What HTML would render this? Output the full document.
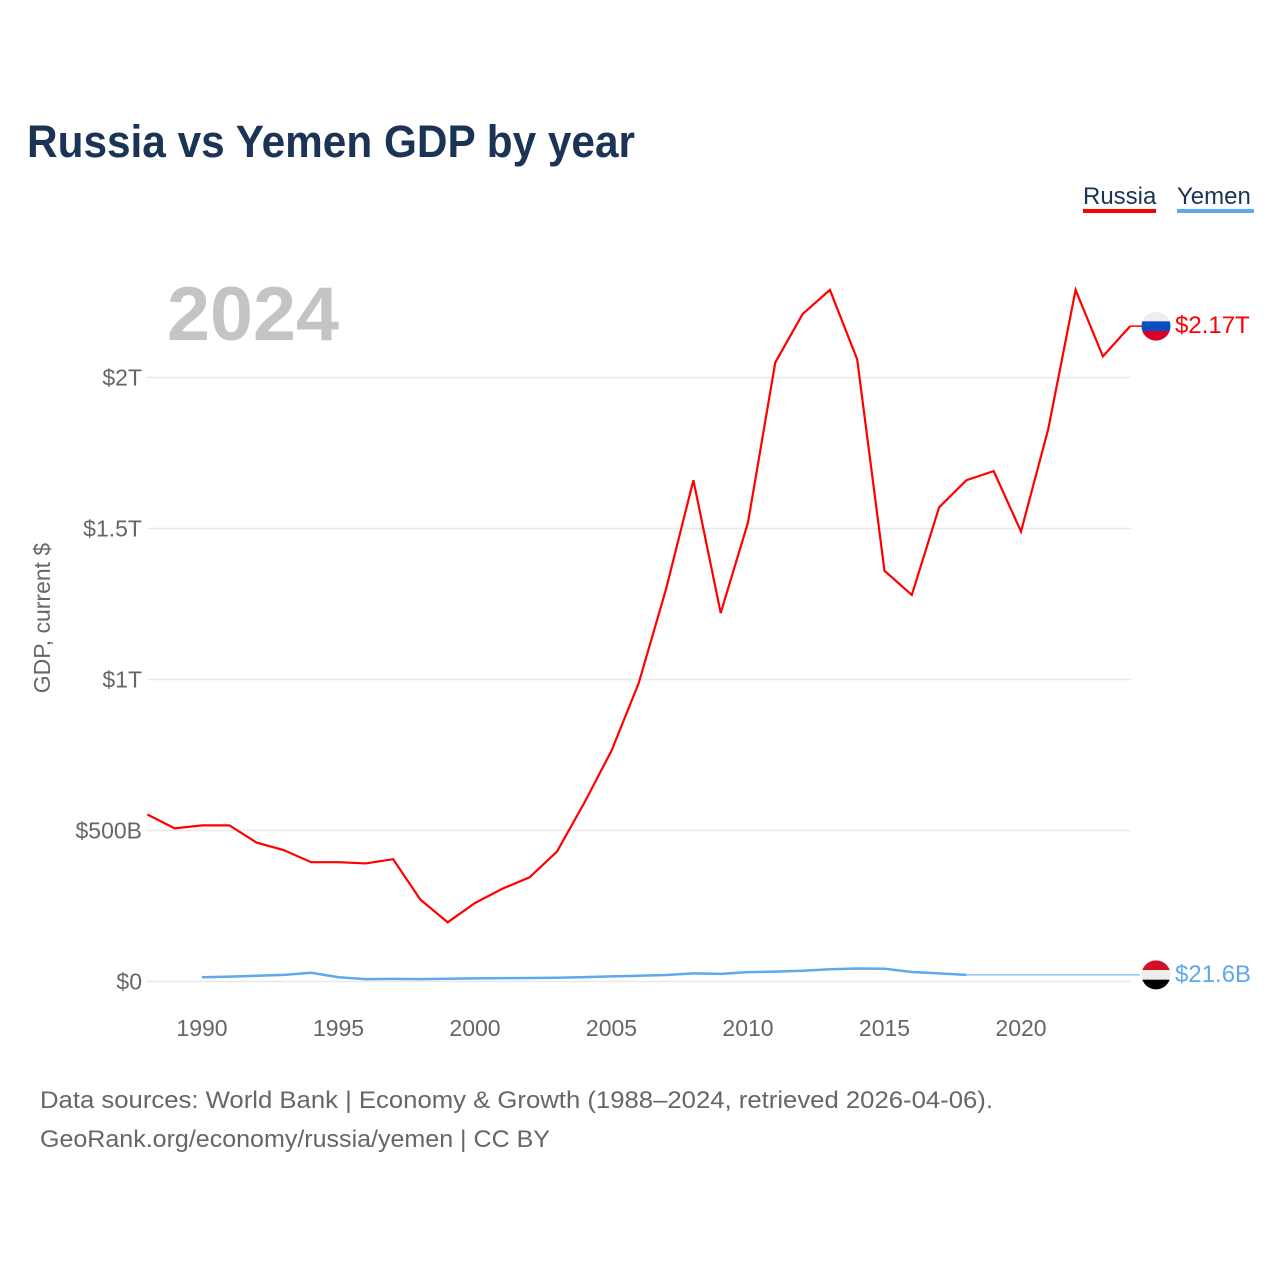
<!DOCTYPE html>
<html><head><meta charset="utf-8"><style>
body{margin:0;background:#fff;font-family:"Liberation Sans",sans-serif}
svg{display:block}
</style></head><body>
<svg id="chart" width="1280" height="1280" xmlns="http://www.w3.org/2000/svg">
<text x="27" y="157" font-size="45" font-weight="bold" fill="#1b3354" textLength="608" lengthAdjust="spacingAndGlyphs">Russia vs Yemen GDP by year</text>
<g><text x="1083" y="204" font-size="24" fill="#1b3354">Russia</text><rect x="1083" y="209" width="73" height="4" fill="#ff0000"/></g>
<g><text x="1177" y="204" font-size="24" fill="#1b3354">Yemen</text><rect x="1177" y="209" width="77" height="4" fill="#5ea8ee"/></g>
<text x="167" y="340" font-size="76" font-weight="bold" fill="#c4c4c4" textLength="172" lengthAdjust="spacingAndGlyphs">2024</text>
<text transform="translate(50,618) rotate(-90)" text-anchor="middle" font-size="23" fill="#666">GDP, current $</text>
<g id="grid"></g><g id="xt"></g><g id="lines"></g>
<text x="40" y="1108" font-size="24" fill="#666" textLength="953" lengthAdjust="spacingAndGlyphs">Data sources: World Bank | Economy &amp; Growth (1988–2024, retrieved 2026-04-06).</text>
<text x="40" y="1147" font-size="24" fill="#666" textLength="510" lengthAdjust="spacingAndGlyphs">GeoRank.org/economy/russia/yemen | CC BY</text>
</svg>
<script>
const russiaYears=[1988,1989,1990,1991,1992,1993,1994,1995,1996,1997,1998,1999,2000,2001,2002,2003,2004,2005,2006,2007,2008,2009,2010,2011,2012,2013,2014,2015,2016,2017,2018,2019,2020,2021,2022,2023,2024];
const russiaGDP=[553,507,517,517,460,435,395,395,391,405,271,196,260,307,345,430,591,764,989,1300,1660,1220,1520,2050,2210,2290,2060,1360,1280,1570,1660,1690,1490,1830,2290,2070,2170];
const yemenYears=[1990,1991,1992,1993,1994,1995,1996,1997,1998,1999,2000,2001,2002,2003,2004,2005,2006,2007,2008,2009,2010,2011,2012,2013,2014,2015,2016,2017,2018];
const yemenGDP=[14,16,19,22,29,14,8,8.5,8,9,10.5,11,11.5,12.5,14.5,17,19,21.6,26.9,25.1,31,32.7,35.4,40.4,43.2,42.4,31.3,26.8,22];
const yTicks=[0,500,1000,1500,2000];
const yTickLabels=["$0","$500B","$1T","$1.5T","$2T"];
const xTicks=[1990,1995,2000,2005,2010,2015,2020];
const NS="http://www.w3.org/2000/svg";
const X=y=>147.4+(y-1988)*27.3;
const Y=v=>981.5-v*0.302;
function mk(t,a,p){const e=document.createElementNS(NS,t);for(const k in a)e.setAttribute(k,a[k]);p.appendChild(e);return e;}
const g=document.getElementById('grid'),xt=document.getElementById('xt'),L=document.getElementById('lines');
yTicks.forEach((v,i)=>{
 const l=mk('line',{x1:147,x2:1131,y1:Y(v),y2:Y(v),stroke:'#e8e8e8','stroke-width':1.5},g);
 
 
 const t=mk('text',{x:142,y:Y(v)+8,'text-anchor':'end','font-size':23,fill:'#666'},g);
 t.textContent=yTickLabels[i];
 
 
});
xTicks.forEach(y=>{
 const t=mk('text',{x:X(y),y:1036,'text-anchor':'middle','font-size':23,fill:'#666'},xt);
 t.textContent=y;
 
 
});
const ry=yemenYears.map((y,i)=>X(y)+','+Y(yemenGDP[i])).join(' ');
const yl=mk('polyline',{points:ry,fill:'none',stroke:'#5ea8ee','stroke-width':2.5},L);


const last=yemenGDP[yemenGDP.length-1];
const ye=mk('line',{x1:X(2018),x2:1140,y1:Y(last),y2:Y(last),stroke:'#5ea8ee','stroke-width':1},L);


const rp=russiaYears.map((y,i)=>X(y)+','+Y(russiaGDP[i])).join(' ');
const rl=mk('polyline',{points:rp,fill:'none',stroke:'#ff0000','stroke-width':2.2},L);


const rv=russiaGDP[russiaGDP.length-1];
mk('line',{x1:X(2024),x2:1142,y1:Y(rv),y2:Y(rv),stroke:'#ff0000','stroke-width':1.5},L);
function flag(cy,cols,name){
 const grp=mk('g',{},L);
 
 
 const id='c'+name;
 const cp=mk('clipPath',{id:id},grp);mk('circle',{cx:1156,cy:cy,r:14.5},cp);
 cols.forEach((c,i)=>mk('rect',{x:1141,y:cy-14.5+i*29/3,width:30,height:29/3+0.5,fill:c,'clip-path':'url(#'+id+')'},grp));
}
flag(Y(rv),['#eeeeee','#0a4fbf','#d8002a'],'russia-flag');
flag(Y(last),['#ce1126','#eeeeee','#000000'],'yemen-flag');
const t1=mk('text',{x:1175,y:Y(rv)+7,'font-size':24,fill:'#ff0000'},L);t1.textContent='$2.17T';


const t2=mk('text',{x:1175,y:Y(last)+7,'font-size':24,fill:'#5ea8ee'},L);t2.textContent='$21.6B';


</script>
</body></html>
